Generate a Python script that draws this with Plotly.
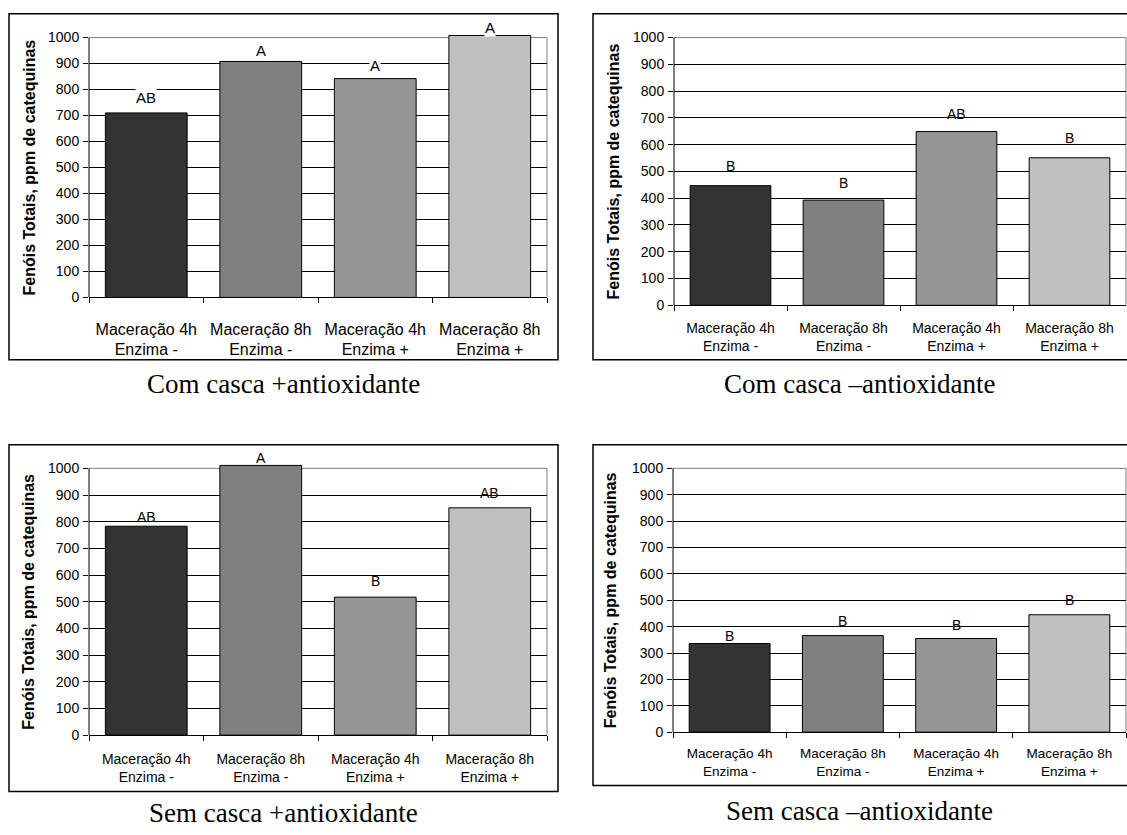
import plotly.graph_objects as go

# ---------------- data ----------------
categories = ["Maceração 4h<br>Enzima -", "Maceração 8h<br>Enzima -",
              "Maceração 4h<br>Enzima +", "Maceração 8h<br>Enzima +"]

com_casca_mais_antiox = [710, 908, 842, 1008]
com_casca_menos_antiox = [447, 393, 649, 551]
sem_casca_mais_antiox = [783, 1011, 517, 852]
sem_casca_menos_antiox = [336, 366, 355, 445]

letras_p1 = ["AB", "A", "A", "A"]
letras_p2 = ["B", "B", "AB", "B"]
letras_p3 = ["AB", "A", "B", "AB"]
letras_p4 = ["B", "B", "B", "B"]

titulos = ["Com casca +antioxidante", "Com casca \u2013antioxidante",
           "Sem casca +antioxidante", "Sem casca \u2013antioxidante"]
y_title = "Fenóis Totais, ppm de catequinas"
y_ticks = [0, 100, 200, 300, 400, 500, 600, 700, 800, 900, 1000]
y_grid = [100, 200, 300, 400, 500, 600, 700, 800, 900]

# ---------------- style / layout ----------------
W, H = 1127, 835
bar_colors = ["#333333", "#808080", "#969696", "#C0C0C0"]
SANS = "Liberation Sans, Arial, sans-serif"
SERIF = "Liberation Serif, Times New Roman, serif"
YMAX = 1025

panels = [
    dict(vals=com_casca_mais_antiox, let=letras_p1, title=titulos[0],
         px=(89, 547), y0=299, y1000=36, box=(9, 12, 558, 362), tpos=(283, 387),
         xfont=16, lfont=15, yfont=14, ytx=29, xstand=17, lbg="white",
         loff=[15, 11, 13, 8]),
    dict(vals=com_casca_menos_antiox, let=letras_p2, title=titulos[1],
         px=(674, 1126), y0=307, y1000=36, box=(593, 12, 1145, 362), tpos=(860, 387),
         xfont=14, lfont=14, yfont=14, ytx=613, xstand=10, lbg="rgba(0,0,0,0)",
         loff=[20, 17, 18, 20]),
    dict(vals=sem_casca_mais_antiox, let=letras_p3, title=titulos[2],
         px=(89, 547), y0=742, y1000=472, box=(9, 448, 558, 799), tpos=(283, 821),
         xfont=14, lfont=14, yfont=14, ytx=29, xstand=11, lbg="rgba(0,0,0,0)",
         loff=[9, 7, 16, 15]),
    dict(vals=sem_casca_menos_antiox, let=letras_p4, title=titulos[3],
         px=(673, 1126), y0=739, y1000=472, box=(593, 448, 1145, 793), tpos=(860, 819),
         xfont=13.5, lfont=14, yfont=14, ytx=610, xstand=9, lbg="rgba(0,0,0,0)",
         loff=[8, 15, 14, 15]),
]

fig = go.Figure()
shapes = []
annotations = []

for i, p in enumerate(panels, start=1):
    xa = "x" if i == 1 else f"x{i}"
    ya = "y" if i == 1 else f"y{i}"
    ppu = (p["y0"] - p["y1000"]) / 1000.0
    top_px = p["y0"] - YMAX * ppu
    xdom = [p["px"][0] / W, p["px"][1] / W]
    ydom = [1 - p["y0"] / H, 1 - top_px / H]

    fig.add_trace(go.Bar(
        x=categories, y=p["vals"], xaxis=xa, yaxis=ya,
        marker=dict(color=bar_colors, line=dict(color="black", width=1)),
        width=0.714, showlegend=False, hoverinfo="x+y",
    ))

    axkey = "" if i == 1 else str(i)
    fig.update_layout(**{
        f"xaxis{axkey}": dict(
            domain=xdom, anchor=ya, type="category", range=[-0.5, 3.5],
            showline=True, linecolor="black", linewidth=1,
            ticks="outside", tickson="boundaries", ticklen=5, tickcolor="black",
            showgrid=False, zeroline=False, fixedrange=True,
            tickfont=dict(family=SANS, size=p["xfont"], color="black"),
            ticklabelstandoff=p["xstand"],
        ),
        f"yaxis{axkey}": dict(
            domain=ydom, anchor=xa, range=[0, YMAX],
            tickvals=y_ticks, showline=False,
            ticks="outside", ticklen=5, tickcolor="black",
            showgrid=False, zeroline=False,
            minor=dict(tickvals=y_grid, showgrid=True, gridcolor="black", gridwidth=1, ticks=""),
            tickfont=dict(family=SANS, size=p["yfont"], color="black"),
            ticklabelstandoff=1, fixedrange=True,
        ),
    })

    # plot-area frame (grey top/right) and black y axis line
    shapes.append(dict(type="line", xref=f"{xa} domain", yref=ya, x0=0, x1=1, y0=1000, y1=1000,
                       line=dict(color="#808080", width=1), layer="below"))
    shapes.append(dict(type="line", xref=f"{xa} domain", yref=ya, x0=1, x1=1, y0=0, y1=1000,
                       line=dict(color="#808080", width=1), layer="below"))
    shapes.append(dict(type="line", xref=f"{xa} domain", yref=ya, x0=0, x1=0, y0=0, y1=1000,
                       line=dict(color="black", width=1), layer="above"))
    # outer chart box
    bx0, by0, bx1, by1 = p["box"]
    shapes.append(dict(type="rect", xref="paper", yref="paper",
                       x0=bx0 / W, x1=bx1 / W, y0=1 - by1 / H, y1=1 - by0 / H,
                       line=dict(color="black", width=1.5), fillcolor="rgba(0,0,0,0)", layer="above"))

    # significance letters
    for c, v, t, off in zip(categories, p["vals"], p["let"], p["loff"]):
        annotations.append(dict(x=c, y=v, xref=xa, yref=ya, text=t, showarrow=False,
                                yanchor="middle", yshift=off, bgcolor=p["lbg"], borderpad=0,
                                font=dict(family=SANS, size=p["lfont"], color="black")))

    # y-axis title
    annotations.append(dict(x=p["ytx"] / W, y=1 - ((p["y0"] + p["y1000"]) / 2) / H,
                            xref="paper", yref="paper", text=f"<b>{y_title}</b>",
                            textangle=-90, showarrow=False, xanchor="center", yanchor="middle",
                            font=dict(family=SANS, size=16, color="black")))
    # panel caption
    annotations.append(dict(x=p["tpos"][0] / W, y=1 - p["tpos"][1] / H, xref="paper", yref="paper",
                            text=p["title"], showarrow=False, xanchor="center", yanchor="middle",
                            font=dict(family=SERIF, size=27, color="black")))

fig.update_layout(
    autosize=True,
    margin=dict(l=0, r=0, t=0, b=0, pad=0),
    paper_bgcolor="white", plot_bgcolor="white",
    bargap=0.286, shapes=shapes, annotations=annotations,
    showlegend=False,
)

post = (
    "document.documentElement.style.margin='0';"
    "document.body.style.margin='0';"
    "document.body.style.overflow='hidden';"
    "var gd=document.getElementById('{plot_id}');"
    "gd.style.width='100vw';gd.style.height='100vh';"
    "Plotly.Plots.resize(gd);"
)

fig.write_html("out.html", config={"displayModeBar": False, "responsive": True},
               default_width="100vw", default_height="100vh", post_script=post)
